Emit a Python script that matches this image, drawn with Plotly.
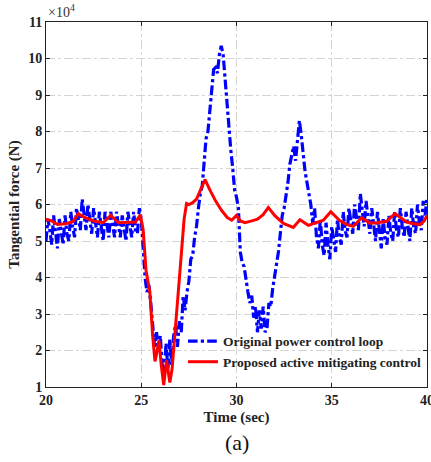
import plotly.graph_objects as go

# Blue: original power control loop, sampled every 0.1 s from 20.0 to 40.0
blue_t = [round(20 + 0.1 * i, 1) for i in range(201)]
blue_f = [
    5.0, 5.6, 5.3, 4.9, 5.7, 5.2, 4.8, 5.6, 5.3, 4.9,
    5.7, 5.2, 5.0, 5.8, 5.4, 5.1, 5.9, 5.6, 5.3, 6.15,
    5.7, 5.3, 6.0, 5.6, 5.2, 5.9, 5.5, 5.1, 5.8, 5.4,
    5.0, 5.8, 5.4, 5.1, 5.8, 5.5, 5.1, 5.8, 5.4, 5.1,
    5.7, 5.3, 5.0, 5.8, 5.4, 5.1, 5.8, 5.3, 5.2, 5.9,
    5.6, 4.9, 4.0, 3.6, 3.8, 3.3, 2.6, 2.1, 2.5, 2.0,
    2.4, 1.6, 1.3, 2.2, 1.5, 2.3, 1.6, 2.4, 2.7, 2.1,
    2.8, 2.5, 3.5, 3.1, 3.6, 3.9, 4.5, 4.6, 5.1, 5.4,
    5.9, 6.3, 6.5, 7.3, 7.8, 8.0, 8.6, 9.2, 9.7, 9.75,
    9.6, 10.1, 10.35, 10.1, 9.4, 8.8, 8.0, 7.5, 7.0, 6.4,
    6.2, 5.9, 4.7, 4.4, 4.3, 3.9, 3.6, 3.3, 3.5, 2.9,
    3.2, 2.5, 3.1, 2.6, 3.2, 2.5, 2.6, 3.3, 3.2, 3.7,
    4.0, 4.4, 4.7, 5.2, 5.7, 5.9, 6.2, 6.6, 7.1, 7.4,
    7.6, 7.2, 7.8, 8.3, 7.9, 7.3, 6.9, 6.6, 6.3, 6.0,
    5.5, 5.9, 5.1, 4.8, 5.6, 4.9, 4.6, 5.5, 4.9, 4.5,
    5.4, 5.0, 4.7, 5.6, 5.1, 4.9, 5.8, 5.3, 5.1, 5.9,
    5.5, 5.2, 6.0, 5.6, 5.3, 6.3, 5.8, 5.4, 6.1, 5.6,
    5.2, 5.9, 5.4, 5.0, 5.8, 5.2, 4.8, 5.6, 5.1, 4.9,
    5.7, 5.2, 5.0, 5.8, 5.3, 5.1, 5.9, 5.4, 5.1, 5.8,
    5.3, 5.0, 5.9, 5.4, 5.2, 6.0, 5.5, 5.3, 6.1, 5.7,
    6.2,
]

# Red: proposed active mitigating control
red_t = [20.0, 20.3, 20.6, 21.0, 21.4, 21.7, 22.0, 22.5, 23.0, 23.4, 23.8, 24.3,
         24.7, 24.95, 25.1, 25.25, 25.35, 25.45, 25.6, 25.72, 25.8, 25.93, 26.05,
         26.18, 26.33, 26.5, 26.62, 26.78, 26.95, 27.12, 27.25, 27.38, 27.5, 27.7,
         27.9, 28.1, 28.35, 28.6, 28.9, 29.2, 29.5, 29.75, 30.0, 30.2, 30.45, 30.8,
         31.1, 31.4, 31.67, 32.0, 32.46, 32.98, 33.33, 33.77, 34.2, 34.56, 34.95,
         35.4, 35.8, 36.13, 36.57, 37.0, 37.4, 37.88, 38.32, 38.93, 39.3, 39.63,
         39.85, 40.0]
red_f = [5.6, 5.55, 5.45, 5.47, 5.52, 5.75, 5.65, 5.55, 5.5, 5.7, 5.5, 5.5,
         5.52, 5.72, 5.3, 4.2, 3.9, 3.6, 2.4, 1.7, 1.9, 2.28, 1.6,
         1.05, 1.74, 1.12, 1.5, 2.47, 3.5, 4.75, 5.6, 6.03, 6.0, 6.05,
         6.15, 6.4, 6.68, 6.4, 6.1, 5.85, 5.65, 5.57, 5.7, 5.55, 5.5, 5.55,
         5.6, 5.72, 5.92, 5.7, 5.48, 5.37, 5.58, 5.43, 5.5, 5.57, 5.8,
         5.57, 5.45, 5.4, 5.64, 5.49, 5.5, 5.54, 5.75, 5.52, 5.47, 5.45,
         5.55, 5.7]

x_ticks = [20, 25, 30, 35, 40]
y_ticks = [1, 2, 3, 4, 5, 6, 7, 8, 9, 10, 11]

serif = "Liberation Serif, Times New Roman, serif"

fig = go.Figure()
fig.add_trace(go.Scatter(
    x=blue_t, y=blue_f, mode="lines", name="Original power control loop",
    line=dict(color="#0000ff", width=3.2, dash="dashdot"),
))
fig.add_trace(go.Scatter(
    x=red_t, y=red_f, mode="lines", name="Proposed active mitigating control",
    line=dict(color="#ff0000", width=3),
))

axis_common = dict(
    showline=True, linecolor="#222", linewidth=1, mirror="ticks",
    ticks="inside", ticklen=4, tickcolor="#222",
    showgrid=True, gridcolor="#d4d4d4", griddash="dashdot", gridwidth=1,
    zeroline=False, automargin=False, ticklabeloverflow="allow",
    tickfont=dict(family=serif, size=14, color="#222", weight="bold"),
)

fig.update_layout(
    width=431, height=462,
    margin=dict(l=46, r=4, t=22, b=75),
    paper_bgcolor="white", plot_bgcolor="white",
    showlegend=True,
    legend=dict(
        x=1.0, y=0.025, xanchor="right", yanchor="bottom",
        bgcolor="rgba(255,255,255,0)", borderwidth=0,
        font=dict(family=serif, size=13.5, color="#222", weight="bold"),
        tracegroupgap=0, itemwidth=30,
    ),
    xaxis=dict(
        range=[20, 40], tickvals=x_ticks,
        title=dict(text="Time (sec)", standoff=4,
                   font=dict(family=serif, size=15, color="#222", weight="bold")),
        **axis_common,
    ),
    yaxis=dict(
        range=[1, 11], tickvals=y_ticks,
        title=dict(text="Tangential force (N)", standoff=4,
                   font=dict(family=serif, size=15, color="#222", weight="bold")),
        **axis_common,
    ),
    annotations=[
        dict(text="×10<sup>4</sup>", xref="paper", yref="paper", x=0.0, y=1.0,
             xanchor="left", yanchor="bottom", showarrow=False, yshift=0,
             font=dict(family=serif, size=14, color="#333")),
        dict(text="(a)", xref="paper", yref="paper", x=0.5, y=-0.152,
             xanchor="center", yanchor="middle", showarrow=False,
             font=dict(family=serif, size=22, color="#111")),
    ],
)

fig.write_html("out.html", config={"displayModeBar": False},
               post_script="document.body.style.margin='0';document.body.style.overflow='hidden';")
